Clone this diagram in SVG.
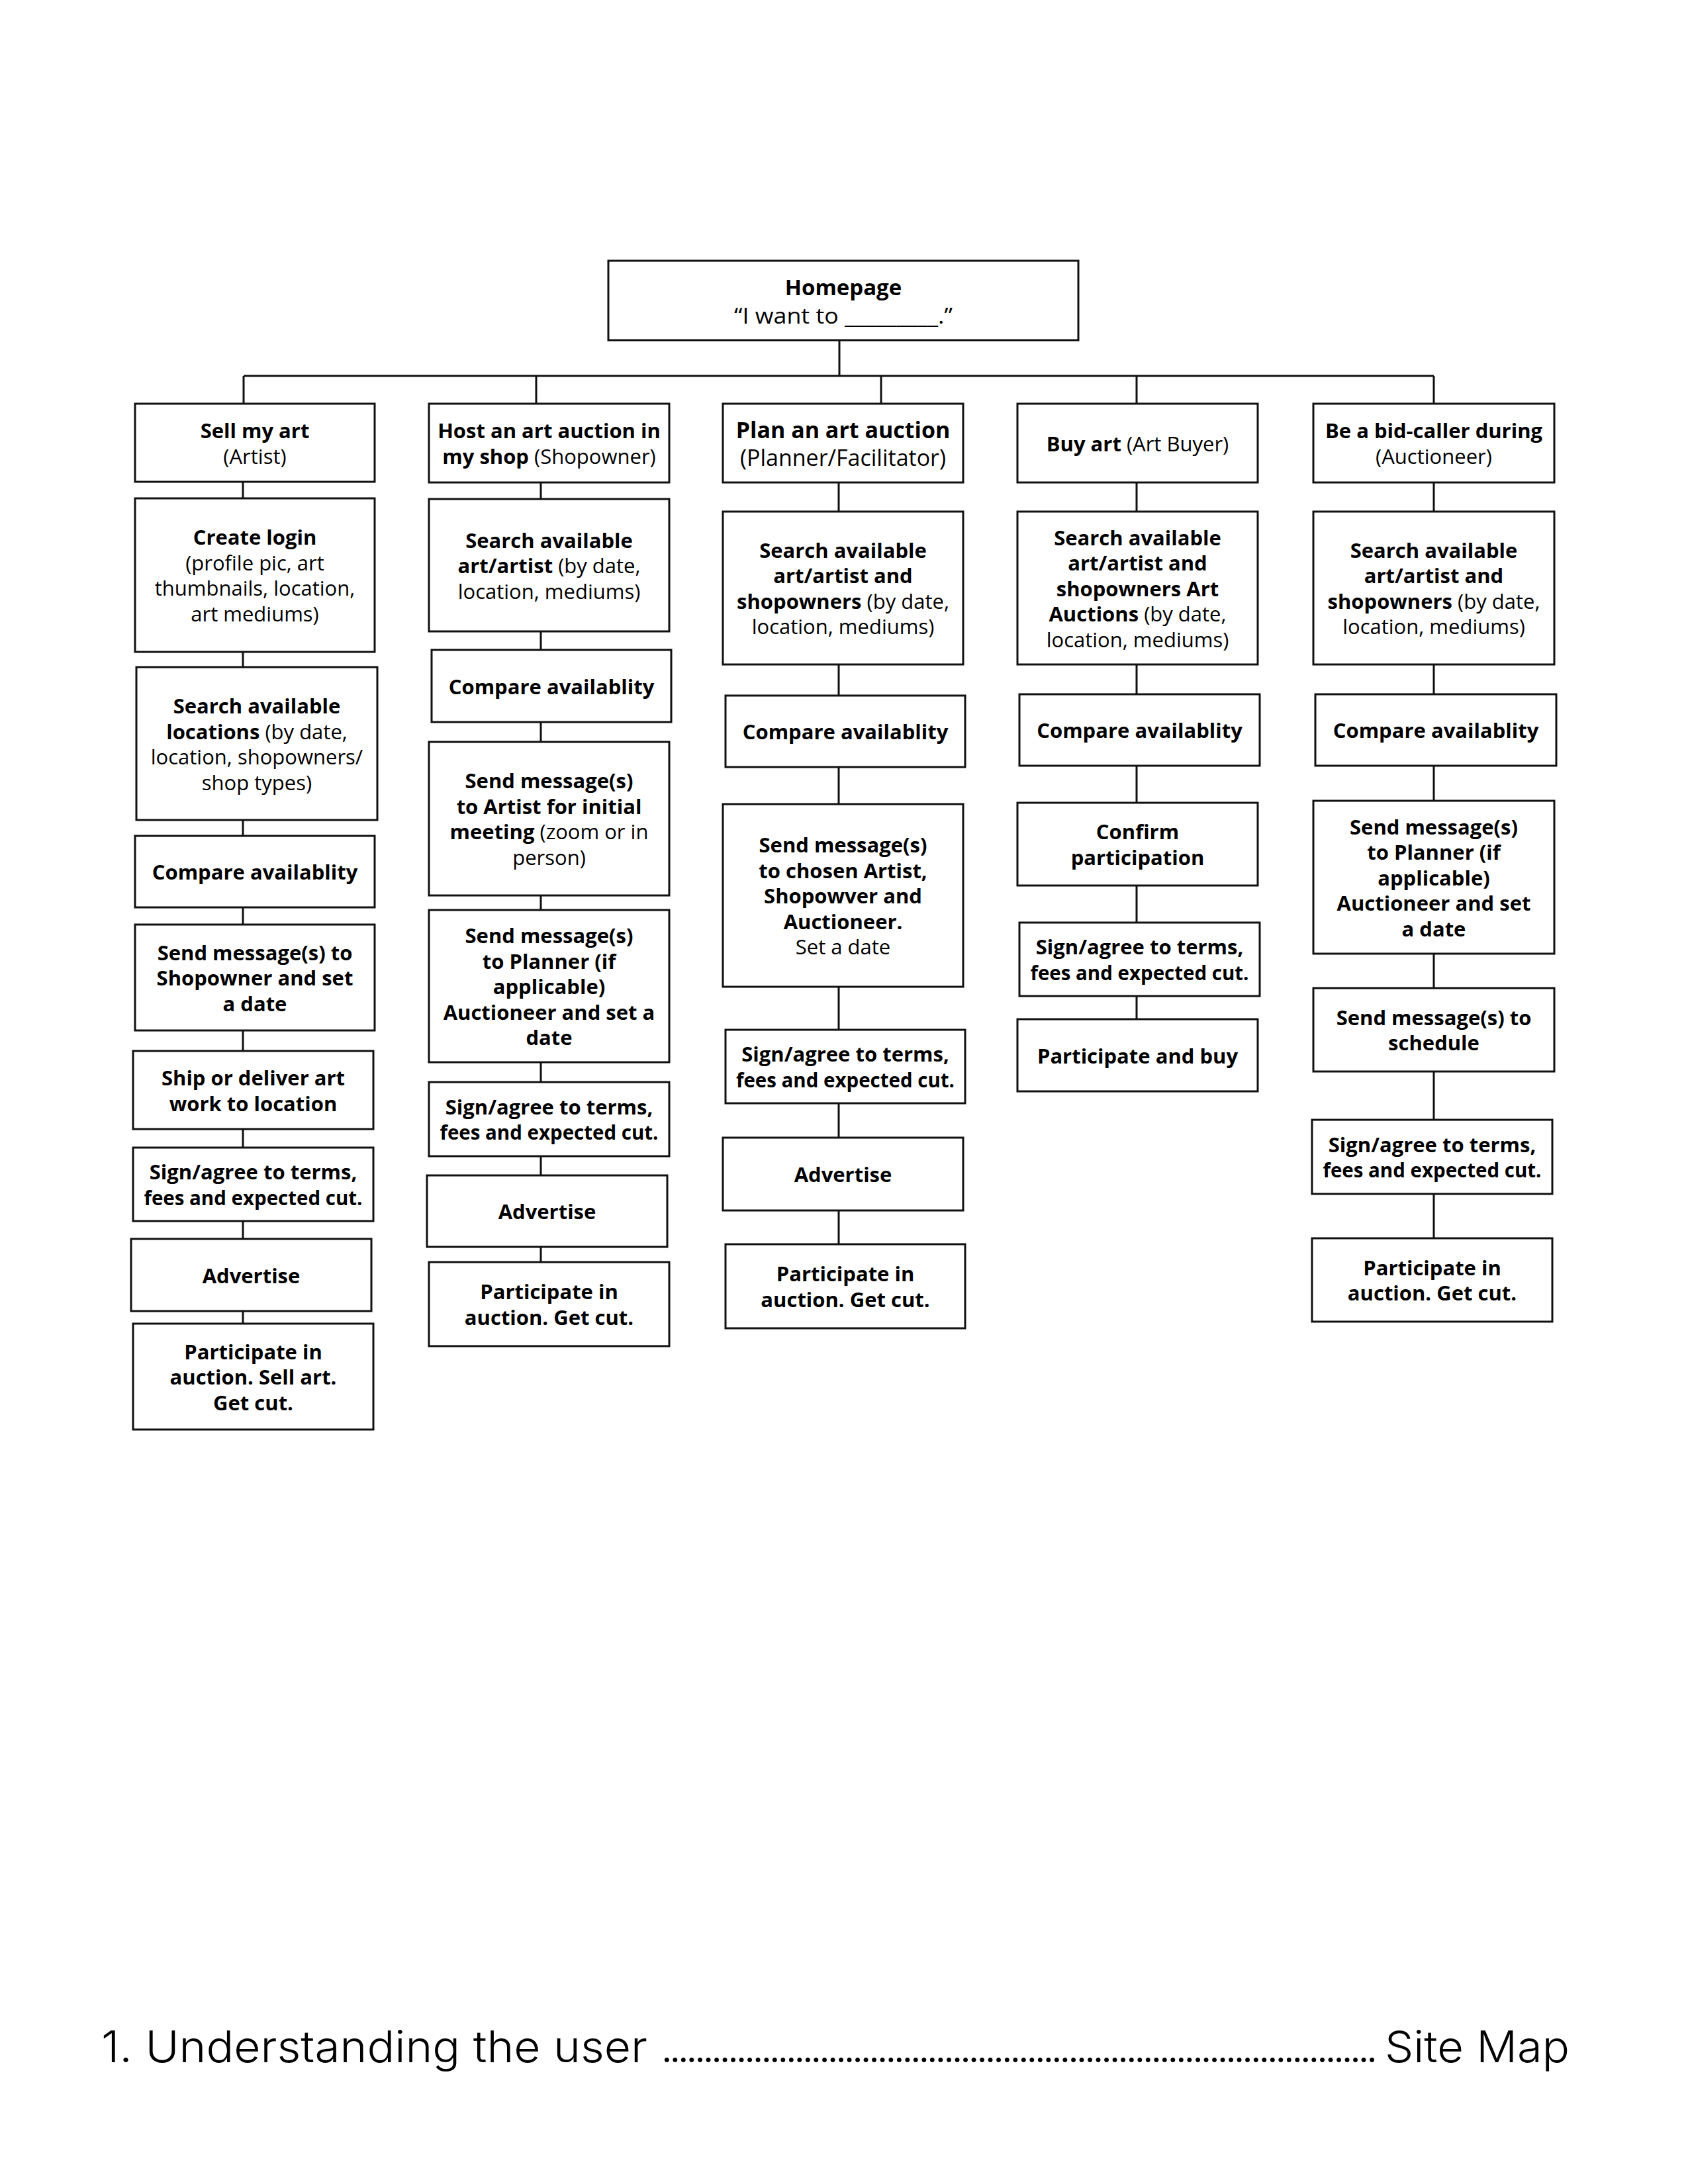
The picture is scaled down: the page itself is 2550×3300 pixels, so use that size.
<svg xmlns="http://www.w3.org/2000/svg" width="2550" height="3300" viewBox="0 0 2550 3300">
<style>
.bg{fill:#fff}
.box{fill:#fff;stroke:#111;stroke-width:3}
.ln{stroke:#111;stroke-width:3;fill:none}
text{font-family:"Open Sans","Noto Sans","DejaVu Sans",sans-serif;font-size:31px;text-anchor:middle;fill:#000}
.b{font-weight:700}
.r{font-weight:400}
.big{font-size:33px}
.hd{font-size:34px}
.foot{font-family:Inter,"Noto Sans",sans-serif;font-weight:300;font-size:66px;text-anchor:start}
</style>
<rect class="bg" x="0" y="0" width="2550" height="3300"/>

<g id="connectors">
<path class="ln" d="M1268 514V568M368 568H2166"/>
<path class="ln" d="M368 568V610M367 728V753M367 985V1008M367 1239V1263M367 1371V1397M367 1557V1588M367 1706V1734M367 1845V1872M367 1981V2000"/>
<path class="ln" d="M810 568V610M817 729V754M817 954V982M817 1091V1121M817 1353V1375M817 1605V1635M817 1747V1776M817 1884V1907"/>
<path class="ln" d="M1331 568V610M1267 729V773M1267 1004V1051M1267 1159V1215M1267 1491V1556M1267 1667V1719M1267 1829V1880"/>
<path class="ln" d="M1717 568V610M1717 729V773M1717 1004V1049M1717 1157V1213M1717 1338V1394M1717 1505V1540"/>
<path class="ln" d="M2166 568V610M2166 729V773M2166 1004V1049M2166 1157V1210M2166 1441V1493M2166 1619V1692M2166 1804V1871"/>
</g>

<g id="homepage">
<rect class="box" x="919" y="394" width="710" height="120"/>
<text x="1274" y="446" class="b big">Homepage</text>
<text x="1274" y="489" class="r big" textLength="330" lengthAdjust="spacingAndGlyphs">“I want to _________.”</text>
</g>

<!-- Column 1 -->
<g id="c1-sell">
<rect class="box" x="204" y="610" width="362" height="118"/>
<text x="385" y="662" class="b">Sell my art</text>
<text x="385" y="700.5" class="r">(Artist)</text>
</g>
<g id="c1-login">
<rect class="box" x="204" y="753" width="362" height="232"/>
<text x="385" y="823" class="b">Create login</text>
<text x="385" y="861.5" class="r">(profile pic, art</text>
<text x="385" y="900" class="r">thumbnails, location,</text>
<text x="385" y="938.5" class="r">art mediums)</text>
</g>
<g id="c1-search">
<rect class="box" x="206" y="1008" width="364" height="231"/>
<text x="388" y="1078" class="b">Search available</text>
<text x="388" y="1116.5"><tspan class="b">locations</tspan><tspan class="r"> (by date,</tspan></text>
<text x="388" y="1155" class="r">location, shopowners/</text>
<text x="388" y="1193.5" class="r">shop types)</text>
</g>
<g id="c1-compare">
<rect class="box" x="204" y="1263" width="362" height="108"/>
<text x="385" y="1329" class="b">Compare availablity</text>
</g>
<g id="c1-message">
<rect class="box" x="204" y="1397" width="362" height="160"/>
<text x="385" y="1450.5" class="b">Send message(s) to</text>
<text x="385" y="1489" class="b">Shopowner and set</text>
<text x="385" y="1527.5" class="b">a date</text>
</g>
<g id="c1-ship">
<rect class="box" x="201" y="1588" width="363" height="118"/>
<text x="382.5" y="1640" class="b">Ship or deliver art</text>
<text x="382.5" y="1678.5" class="b">work to location</text>
</g>
<g id="c1-sign">
<rect class="box" x="201" y="1734" width="363" height="111"/>
<text x="382.5" y="1782" class="b">Sign/agree to terms,</text>
<text x="382.5" y="1820.5" class="b" textLength="330" lengthAdjust="spacingAndGlyphs">fees and expected cut.</text>
</g>
<g id="c1-advertise">
<rect class="box" x="198" y="1872" width="363" height="109"/>
<text x="379.5" y="1938.5" class="b">Advertise</text>
</g>
<g id="c1-participate">
<rect class="box" x="201" y="2000" width="363" height="160"/>
<text x="382.5" y="2053.5" class="b">Participate in</text>
<text x="382.5" y="2092" class="b">auction. Sell art.</text>
<text x="382.5" y="2130.5" class="b">Get cut.</text>
</g>

<!-- Column 2 -->
<g id="c2-host">
<rect class="box" x="648" y="610" width="363" height="119"/>
<text x="829.5" y="662.25" class="b">Host an art auction in</text>
<text x="829.5" y="700.75"><tspan class="b">my shop</tspan><tspan class="r"> (Shopowner)</tspan></text>
</g>
<g id="c2-search">
<rect class="box" x="648" y="754" width="363" height="200"/>
<text x="829.5" y="827.5" class="b">Search available</text>
<text x="829.5" y="866"><tspan class="b">art/artist</tspan><tspan class="r"> (by date,</tspan></text>
<text x="829.5" y="904.5" class="r">location, mediums)</text>
</g>
<g id="c2-compare">
<rect class="box" x="652" y="982" width="362" height="109"/>
<text x="833" y="1048.5" class="b">Compare availablity</text>
</g>
<g id="c2-msg-artist">
<rect class="box" x="648" y="1121" width="363" height="232"/>
<text x="829.5" y="1191.25" class="b">Send message(s)</text>
<text x="829.5" y="1229.75" class="b">to Artist for initial</text>
<text x="829.5" y="1268.25"><tspan class="b">meeting</tspan><tspan class="r"> (zoom or in</tspan></text>
<text x="829.5" y="1306.75" class="r">person)</text>
</g>
<g id="c2-msg-planner">
<rect class="box" x="648" y="1375" width="363" height="230"/>
<text x="829.5" y="1425" class="b">Send message(s)</text>
<text x="829.5" y="1463.5" class="b">to Planner (if</text>
<text x="829.5" y="1502" class="b">applicable)</text>
<text x="829.5" y="1540.5" class="b">Auctioneer and set a</text>
<text x="829.5" y="1579" class="b">date</text>
</g>
<g id="c2-sign">
<rect class="box" x="648" y="1635" width="363" height="112"/>
<text x="829.5" y="1683.75" class="b">Sign/agree to terms,</text>
<text x="829.5" y="1722.25" class="b" textLength="330" lengthAdjust="spacingAndGlyphs">fees and expected cut.</text>
</g>
<g id="c2-advertise">
<rect class="box" x="645" y="1776" width="363" height="108"/>
<text x="826.5" y="1842" class="b">Advertise</text>
</g>
<g id="c2-participate">
<rect class="box" x="648" y="1907" width="363" height="127"/>
<text x="829.5" y="1963.25" class="b">Participate in</text>
<text x="829.5" y="2001.75" class="b">auction. Get cut.</text>
</g>

<!-- Column 3 -->
<g id="c3-plan">
<rect class="box" x="1092" y="610" width="363" height="119"/>
<text x="1273.5" y="662" class="b hd">Plan an art auction</text>
<text x="1273.5" y="704" class="r hd">(Planner/Facilitator)</text>
</g>
<g id="c3-search">
<rect class="box" x="1092" y="773" width="363" height="231"/>
<text x="1273.5" y="842.75" class="b">Search available</text>
<text x="1273.5" y="881.25" class="b">art/artist and</text>
<text x="1273.5" y="919.75"><tspan class="b">shopowners</tspan><tspan class="r"> (by date,</tspan></text>
<text x="1273.5" y="958.25" class="r">location, mediums)</text>
</g>
<g id="c3-compare">
<rect class="box" x="1096" y="1051" width="362" height="108"/>
<text x="1277" y="1117" class="b">Compare availablity</text>
</g>
<g id="c3-message">
<rect class="box" x="1092" y="1215" width="363" height="276"/>
<text x="1273.5" y="1288" class="b">Send message(s)</text>
<text x="1273.5" y="1326.5" class="b">to chosen Artist,</text>
<text x="1273.5" y="1365" class="b">Shopowver and</text>
<text x="1273.5" y="1403.5" class="b">Auctioneer.</text>
<text x="1273.5" y="1442" class="r">Set a date</text>
</g>
<g id="c3-sign">
<rect class="box" x="1096" y="1556" width="362" height="111"/>
<text x="1277" y="1604.25" class="b">Sign/agree to terms,</text>
<text x="1277" y="1642.75" class="b" textLength="330" lengthAdjust="spacingAndGlyphs">fees and expected cut.</text>
</g>
<g id="c3-advertise">
<rect class="box" x="1092" y="1719" width="363" height="110"/>
<text x="1273.5" y="1786" class="b">Advertise</text>
</g>
<g id="c3-participate">
<rect class="box" x="1096" y="1880" width="362" height="127"/>
<text x="1277" y="1936.25" class="b">Participate in</text>
<text x="1277" y="1974.75" class="b">auction. Get cut.</text>
</g>

<!-- Column 4 -->
<g id="c4-buy">
<rect class="box" x="1537" y="610" width="363" height="119"/>
<text x="1718.5" y="681.5"><tspan class="b">Buy art</tspan><tspan class="r"> (Art Buyer)</tspan></text>
</g>
<g id="c4-search">
<rect class="box" x="1537" y="773" width="363" height="231"/>
<text x="1718.5" y="823.5" class="b">Search available</text>
<text x="1718.5" y="862" class="b">art/artist and</text>
<text x="1718.5" y="900.5" class="b">shopowners Art</text>
<text x="1718.5" y="939"><tspan class="b">Auctions</tspan><tspan class="r"> (by date,</tspan></text>
<text x="1718.5" y="977.5" class="r">location, mediums)</text>
</g>
<g id="c4-compare">
<rect class="box" x="1540" y="1049" width="363" height="108"/>
<text x="1721.5" y="1115" class="b">Compare availablity</text>
</g>
<g id="c4-confirm">
<rect class="box" x="1537" y="1213" width="363" height="125"/>
<text x="1718.5" y="1268.25" class="b">Confirm</text>
<text x="1718.5" y="1306.75" class="b">participation</text>
</g>
<g id="c4-sign">
<rect class="box" x="1540" y="1394" width="363" height="111"/>
<text x="1721.5" y="1442.25" class="b">Sign/agree to terms,</text>
<text x="1721.5" y="1480.75" class="b" textLength="330" lengthAdjust="spacingAndGlyphs">fees and expected cut.</text>
</g>
<g id="c4-participate">
<rect class="box" x="1537" y="1540" width="363" height="109"/>
<text x="1718.5" y="1606.5" class="b">Participate and buy</text>
</g>

<!-- Column 5 -->
<g id="c5-bidcaller">
<rect class="box" x="1984" y="610" width="364" height="119"/>
<text x="2166" y="662.25" class="b">Be a bid-caller during</text>
<text x="2166" y="700.75" class="r">(Auctioneer)</text>
</g>
<g id="c5-search">
<rect class="box" x="1984" y="773" width="364" height="231"/>
<text x="2166" y="842.75" class="b">Search available</text>
<text x="2166" y="881.25" class="b">art/artist and</text>
<text x="2166" y="919.75"><tspan class="b">shopowners</tspan><tspan class="r"> (by date,</tspan></text>
<text x="2166" y="958.25" class="r">location, mediums)</text>
</g>
<g id="c5-compare">
<rect class="box" x="1987" y="1049" width="364" height="108"/>
<text x="2169" y="1115" class="b">Compare availablity</text>
</g>
<g id="c5-msg-planner">
<rect class="box" x="1984" y="1210" width="364" height="231"/>
<text x="2166" y="1260.5" class="b">Send message(s)</text>
<text x="2166" y="1299" class="b">to Planner (if</text>
<text x="2166" y="1337.5" class="b">applicable)</text>
<text x="2166" y="1376" class="b">Auctioneer and set</text>
<text x="2166" y="1414.5" class="b">a date</text>
</g>
<g id="c5-schedule">
<rect class="box" x="1984" y="1493" width="364" height="126"/>
<text x="2166" y="1548.75" class="b">Send message(s) to</text>
<text x="2166" y="1587.25" class="b">schedule</text>
</g>
<g id="c5-sign">
<rect class="box" x="1982" y="1692" width="363" height="112"/>
<text x="2163.5" y="1740.75" class="b">Sign/agree to terms,</text>
<text x="2163.5" y="1779.25" class="b" textLength="330" lengthAdjust="spacingAndGlyphs">fees and expected cut.</text>
</g>
<g id="c5-participate">
<rect class="box" x="1982" y="1871" width="363" height="126"/>
<text x="2163.5" y="1926.75" class="b">Participate in</text>
<text x="2163.5" y="1965.25" class="b">auction. Get cut.</text>
</g>

<g id="footer">
<text class="foot" x="153" y="3116" textLength="825" lengthAdjust="spacingAndGlyphs">1. Understanding the user</text>
<text class="foot" x="998" y="3116" textLength="1084" lengthAdjust="spacing">......................................................................................</text>
<text class="foot" x="2092" y="3116" textLength="279" lengthAdjust="spacingAndGlyphs">Site Map</text>
</g>
</svg>
